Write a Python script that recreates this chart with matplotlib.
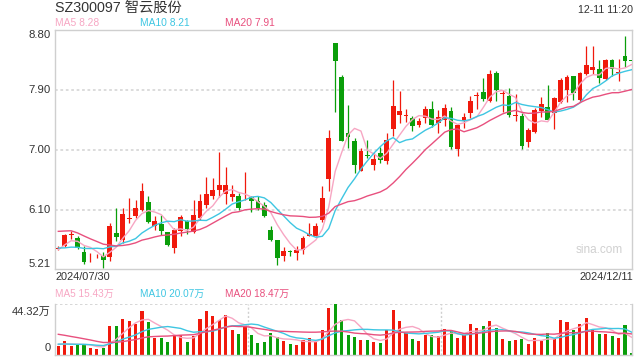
import numpy as np
import pandas as pd
import matplotlib
matplotlib.use("Agg")
import matplotlib.pyplot as plt

plt.rcParams['font.family'] = ['Liberation Sans', 'Noto Sans CJK SC', 'DejaVu Sans']

# daily OHLC, 2024/07/30 .. 2024/12/11
opens = [5.51, 5.55, 5.72, 5.675, 5.465, 5.37, 5.40, 5.40, 5.385, 5.755,
         5.65, 5.96, 6.01, 6.09, 6.21, 5.86, 5.89, 5.77, 5.52, 5.775,
         5.925, 5.76, 5.97, 6.17, 6.31, 6.40, 6.34, 6.29, 6.31, 6.27,
         6.285, 6.225, 6.165, 5.80, 5.65, 5.41, 5.48, 5.45, 5.50, 5.71,
         5.71, 5.95, 6.565, 8.61, 8.10, 7.25, 7.135, 6.675, 6.92, 6.775,
         6.95, 6.825, 7.31, 7.52, 7.51, 7.475, 7.38, 7.475, 7.61, 7.41,
         7.45, 7.585, 7.01, 7.44, 7.56, 7.81, 7.865, 7.735, 8.16, 7.84,
         7.81, 7.51, 7.51, 7.115, 7.275, 7.585, 7.64, 7.55, 7.725, 7.90,
         8.115, 7.75, 8.14, 8.20, 8.215, 8.065, 8.35, 8.16, 8.41, 8.34]
highs = [5.55, 5.74, 5.775, 5.70, 5.56, 5.45, 5.44, 5.46, 5.90, 6.125,
         6.125, 6.275, 6.25, 6.50, 6.30, 6.00, 6.025, 5.77, 5.83, 6.025,
         5.95, 6.25, 6.335, 6.59, 6.575, 6.97, 6.74, 6.47, 6.35, 6.66,
         6.31, 6.30, 6.22, 5.86, 5.65, 5.54, 5.50, 5.56, 5.70, 5.90,
         5.90, 6.45, 7.30, 8.61, 8.125, 7.675, 7.175, 7.025, 7.15, 6.95,
         7.05, 7.25, 8.05, 7.885, 7.61, 7.51, 7.475, 7.665, 7.735, 7.60,
         7.69, 7.64, 7.385, 7.55, 7.81, 7.875, 8.075, 8.20, 8.185, 7.905,
         7.925, 7.835, 7.55, 7.335, 7.625, 7.80, 7.975, 7.80, 8.075, 8.125,
         8.115, 8.17, 8.56, 8.56, 8.35, 8.37, 8.36, 8.37, 8.71, 8.34]
lows = [5.49, 5.54, 5.66, 5.51, 5.29, 5.31, 5.38, 5.23, 5.325, 5.625,
        5.60, 5.90, 5.975, 6.075, 5.90, 5.80, 5.725, 5.56, 5.45, 5.71,
        5.735, 5.75, 5.95, 6.125, 6.265, 6.29, 6.19, 6.225, 6.09, 6.25,
        6.06, 6.10, 5.99, 5.625, 5.275, 5.325, 5.41, 5.34, 5.44, 5.70,
        5.70, 5.91, 6.375, 7.575, 7.14, 7.025, 6.65, 6.675, 6.88, 6.70,
        6.80, 6.78, 7.21, 7.41, 7.425, 7.285, 7.35, 7.40, 7.34, 7.26,
        7.36, 7.015, 6.90, 7.325, 7.475, 7.615, 7.74, 7.72, 7.735, 7.575,
        7.50, 7.44, 7.015, 7.04, 7.26, 7.50, 7.45, 7.31, 7.70, 7.72,
        7.745, 7.725, 8.125, 8.14, 8.01, 8.05, 8.115, 8.04, 8.25, 8.33]
closes = [5.53, 5.725, 5.73, 5.525, 5.31, 5.38, 5.41, 5.34, 5.86, 5.695,
          6.04, 5.98, 6.125, 6.375, 5.92, 5.925, 5.785, 5.575, 5.79, 5.99,
          5.81, 6.025, 6.225, 6.34, 6.40, 6.465, 6.475, 6.34, 6.12, 6.28,
          6.235, 6.125, 6.00, 5.65, 5.37, 5.485, 5.47, 5.50, 5.675, 5.73,
          5.86, 6.275, 7.175, 8.34, 7.14, 7.19, 6.765, 6.975, 6.90, 6.865,
          6.85, 7.15, 7.66, 7.585, 7.53, 7.36, 7.435, 7.615, 7.375, 7.49,
          7.625, 7.05, 7.375, 7.49, 7.735, 7.82, 7.765, 8.14, 7.90, 7.85,
          7.525, 7.52, 7.065, 7.30, 7.60, 7.69, 7.45, 7.775, 8.05, 8.10,
          7.86, 8.15, 8.28, 8.25, 8.085, 8.35, 8.21, 8.165, 8.34, 8.335]
# volume, 万 shares
volumes = [7.7, 12.2, 8.3, 8.9, 8.9, 5.9, 5.1, 6.2, 25.6, 25.6,
           31.8, 30.0, 27.4, 38.1, 28.6, 15.2, 14.9, 11.6, 17.5, 17.5,
           11.6, 16.7, 31.8, 38.1, 34.5, 30.9, 35.1, 22.0, 18.4, 25.6,
           17.5, 10.7, 11.3, 19.6, 16.1, 12.5, 9.5, 8.6, 13.1, 14.9,
           11.9, 22.0, 40.7, 44.32, 30.9, 17.5, 15.8, 13.1, 13.1, 11.3,
           10.4, 22.0, 39.0, 30.0, 19.6, 14.0, 12.2, 17.5, 17.5, 16.7,
           22.9, 21.1, 14.9, 17.2, 27.4, 23.8, 25.6, 30.0, 23.8, 14.0,
           12.2, 13.1, 14.0, 9.5, 14.9, 12.2, 19.3, 14.0, 30.9, 28.6,
           22.0, 27.4, 32.7, 22.0, 18.4, 18.4, 16.7, 14.9, 26.5, 1.5]

# sessions before the window, backed out from where the MA lines start
prior_close = [5.62, 5.66, 6.18, 6.22, 6.25, 6.20, 6.15, 6.10, 5.98, 5.90,
               5.70, 5.62, 5.55, 5.48, 5.40, 5.36, 5.42, 5.57, 5.62]
prior_vol = [30, 29, 28, 30, 27, 29, 26, 24, 22, 22,
             11, 10, 10, 9, 9, 10, 9, 9.5, 9.8]

# legend texts as printed on the chart
ma_windows = [5, 10, 20]
ma_price_labels = ['MA5 8.28', 'MA10 8.21', 'MA20 7.91']
ma_vol_labels = ['MA5 15.43万', 'MA10 20.07万', 'MA20 18.47万']

price_ticks = [8.80, 7.90, 7.00, 6.10, 5.21]
date_labels = ['2024/07/30', '2024/12/11']

RED = '#f0190c'
GREEN = '#0a9e0a'
MA_COLORS = ['#f7a6c3', '#3ec6e2', '#e8507e']

W, H = 640, 360
def fx(x): return x / W
def fy(y): return 1 - y / H

n = len(closes)
x = np.arange(n)
o, h, l, c = map(np.array, (opens, highs, lows, closes))
col = np.where(c >= o, RED, GREEN)

cl_all = pd.Series(prior_close + closes)
vol_all = pd.Series(prior_vol + volumes)
k = len(prior_close)
ma_p = [cl_all.rolling(m).mean().values[k:] for m in ma_windows]
ma_v = [vol_all.rolling(m).mean().values[k:] for m in ma_windows]

fig = plt.figure(figsize=(6.4, 3.6), dpi=100)
fig.patch.set_facecolor('white')

xl = (-0.51, 89.09)

# ---- price panel
ax = fig.add_axes([fx(55), fy(269), fx(577), 239 / H])
for v in (7.90, 7.00, 6.10):
    ax.axhline(v, color='#d9d9d9', lw=1.3, ls=(0, (1.5, 1.5)), zorder=0)
ax.vlines(x, l, h, colors=col, lw=0.9, zorder=2)
body = np.maximum(np.abs(c - o), 0.012)
ax.bar(x, body, bottom=np.minimum(o, c), width=0.74, color=col, lw=0, zorder=3)
for m, cc in zip(ma_p, MA_COLORS):
    ax.plot(x, m, color=cc, lw=1.0, zorder=4)
ax.set_xlim(*xl)
ax.set_ylim(5.21, 8.80)
ax.set_xticks([])
ax.set_yticks([])
for s in ax.spines.values():
    s.set_color('#cfcfcf')
    s.set_linewidth(1)
ax.text(0.985, 0.08, 'sina.com', transform=ax.transAxes, ha='right', va='center',
        fontsize=8.5, color='#d0d0d0')

# ---- volume panel
axv = fig.add_axes([fx(55), fy(355), fx(577), 50.7 / H])
axv.bar(x, volumes, width=0.48, color=col, lw=0, zorder=2)
for m, cc in zip(ma_v, MA_COLORS):
    axv.plot(x, m, color=cc, lw=1.0, zorder=3)
axv.axhline(44.32, color='#d0d0d0', lw=1.2, ls=(0, (1.5, 1.5)), zorder=0)
for xv in (29.45, 59.4):
    axv.axvline(xv, color='#d0d0d0', lw=1.0, ls=(0, (1.5, 1.5)), zorder=0)
axv.set_xlim(*xl)
axv.set_ylim(0, 44.32)
axv.set_xticks([])
axv.set_yticks([])
for s in axv.spines.values():
    s.set_color('#cfcfcf')
    s.set_linewidth(1)
axv.spines['top'].set_visible(False)

# ---- texts
txt = '#333333'
fig.text(fx(55), fy(8), 'SZ300097 智云股份', fontsize=10.3, color=txt, va='center')
fig.text(fx(633), fy(10), '12-11 11:20', fontsize=7.7, color=txt, va='center', ha='right')

for xp, lp, lv, cc in zip((55, 140, 225), ma_price_labels, ma_vol_labels, MA_COLORS):
    fig.text(fx(xp), fy(23.5), lp, fontsize=7.4, color=cc, va='center')
    fig.text(fx(xp), fy(294), lv, fontsize=7.2, color=cc, va='center')

label_y = [35, 90, 150, 210, 264]
for v, yp in zip(price_ticks, label_y):
    fig.text(fx(51), fy(yp), '%.2f' % v, fontsize=8.2, color=txt,
             ha='right', va='center')
fig.text(fx(51), fy(311.5), '44.32万', fontsize=8, color=txt, ha='right', va='center')
fig.text(fx(51), fy(348), '0', fontsize=8, color=txt, ha='right', va='center')

fig.text(fx(55), fy(277), date_labels[0], fontsize=7.9, color=txt, va='center')
fig.text(fx(633), fy(277), date_labels[1], fontsize=7.9, color=txt, va='center', ha='right')

fig.savefig('out.png', dpi=100)
